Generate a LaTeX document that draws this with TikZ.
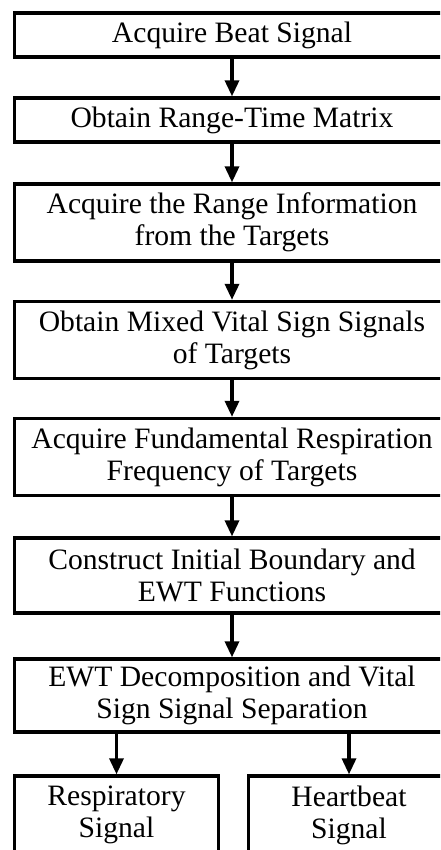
\documentclass[tikz,border=0pt]{standalone}
\usepackage{fontspec}
\setmainfont{Liberation Serif}
\usetikzlibrary{arrows.meta}
\begin{document}
\begin{tikzpicture}[x=1pt,y=-1pt,
  box/.style={draw,line width=3.3pt,rectangle,align=center,inner sep=0pt,
    font=\fontsize{29.6}{32}\selectfont},
  mainbox/.style={box,minimum width=435pt},
  arr/.style={line width=3.3pt,-{Triangle[length=16pt,width=14pt]}}]
\useasboundingbox (0,0) rectangle (440,850);
\clip (0,0) rectangle (440,850);
\node[mainbox,minimum height=44pt] (b1) at (232,35) {Acquire Beat Signal};
\node[mainbox,minimum height=44pt] (b2) at (232,120) {Obtain Range-Time Matrix};
\node[mainbox,minimum height=77pt] (b3) at (232,222.5) {Acquire the Range Information\\from the Targets};
\node[mainbox,minimum height=77pt] (b4) at (232,340) {Obtain Mixed Vital Sign Signals\\of Targets};
\node[mainbox,minimum height=77pt] (b5) at (232,457) {Acquire Fundamental Respiration\\Frequency of Targets};
\node[mainbox,minimum height=75pt] (b6) at (232,575.5) {Construct Initial Boundary and\\EWT Functions};
\node[mainbox,minimum height=73pt] (b7) at (232,695.5) {EWT Decomposition and Vital\\Sign Signal Separation};
\node[box,minimum width=204pt,minimum height=78pt] (r) at (116.5,815) {Respiratory\\Signal};
\node[box,minimum width=201pt,minimum height=78pt] (h) at (349,815) {Heartbeat\\Signal};
\draw[arr] (b1) -- (b2);
\draw[arr] (b2) -- (b3);
\draw[arr] (b3) -- (b4);
\draw[arr] (b4) -- (b5);
\draw[arr] (b5) -- (b6);
\draw[arr] (b6) -- (b7);
\draw[arr] (b7.south -| r.north) -- (r.north);
\draw[arr] (b7.south -| h.north) -- (h.north);
\end{tikzpicture}
\end{document}
